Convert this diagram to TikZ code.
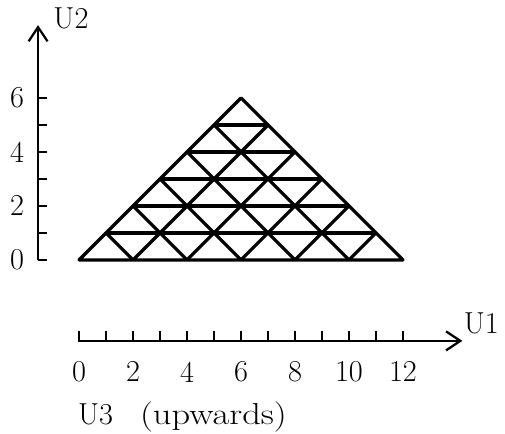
\documentclass[tikz,border=0pt]{standalone}
\usepackage{tikz}
\usetikzlibrary{arrows.meta}

\begin{document}
\begin{tikzpicture}[x=0.5cm, y=0.5cm, font=\fontsize{16}{19}\selectfont]
\tikzset{lattice/.style={color=black, line width=1.7, line join=round},
  axis/.style={color=black, line width=1.2},
  axisarrow/.style={axis, -{Straight Barb[length=7.5pt, width=10pt]}}}
\useasboundingbox (-2.93,-6.44) rectangle (15.78,9.63);
% Axe U2
\draw[axisarrow] (-1.52,0) -- (-1.52,8.7);
\foreach \v in {0,...,6} \draw[axis] (-1.52,\v) -- (-1.19,\v);
\node (v0) at (-2.3,0) {0};
\node (v2) at (-2.3,2) {2};
\node (v4) at (-2.3,4) {4};
\node (v6) at (-2.3,6) {6};
\node (labU2) at (-0.3,8.95) {U2};
% Axe U1
\draw[axisarrow] (-0.05,-3) -- (14.2,-3);
\foreach \u in {0,...,12} \draw[axis] (\u,-3) -- (\u,-2.63);
\foreach \u in {0,2,...,12} \node (h\u) at (\u,-4.15) {\u};
\node (labU1) at (14.9,-2.35) {U1};
\node[anchor=west, inner sep=0pt] (labU3) at (-0.05,-5.8)
  {U3\hspace{0.5cm}\scalebox{1.2}[1]{(upwards)}};
% Triangle
\draw[lattice] (0,0) -- (12,0) -- (6,6) -- cycle;
% Horizontales
\draw[lattice] (1,1) -- (11,1);
\draw[lattice] (2,2) -- (10,2);
\draw[lattice] (3,3) -- (9,3);
\draw[lattice] (4,4) -- (8,4);
\draw[lattice] (5,5) -- (7,5);
% Diagonales montantes
\draw[lattice] (2,0) -- (7,5);
\draw[lattice] (4,0) -- (8,4);
\draw[lattice] (6,0) -- (9,3);
\draw[lattice] (8,0) -- (10,2);
\draw[lattice] (10,0) -- (11,1);
% Diagonales descendantes
\draw[lattice] (2,0) -- (1,1);
\draw[lattice] (4,0) -- (2,2);
\draw[lattice] (6,0) -- (3,3);
\draw[lattice] (8,0) -- (4,4);
\draw[lattice] (10,0) -- (5,5);
\end{tikzpicture}
\end{document}
